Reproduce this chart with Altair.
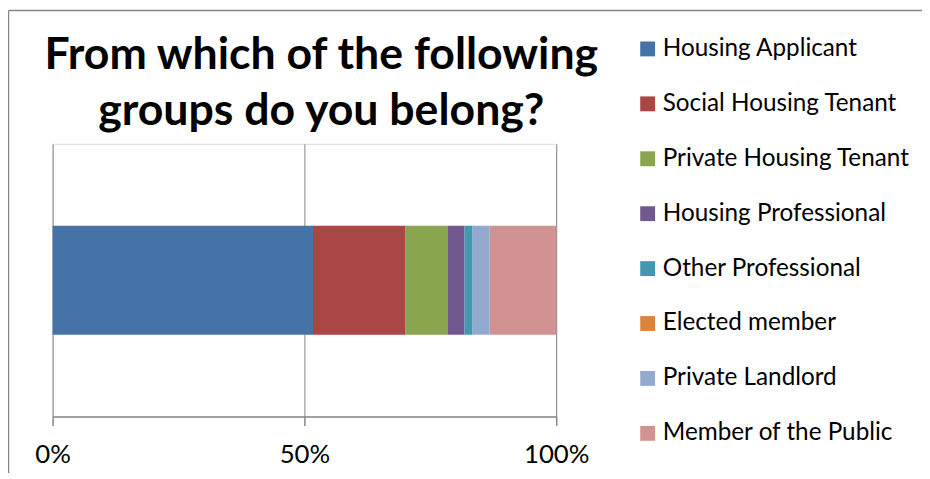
import altair as alt
import pandas as pd

categories = [
    "Housing Applicant",
    "Social Housing Tenant",
    "Private Housing Tenant",
    "Housing Professional",
    "Other Professional",
    "Elected member",
    "Private Landlord",
    "Member of the Public",
]
values = [51.7, 18.4, 8.3, 3.4, 1.6, 0.0, 3.4, 13.2]
colors = ["#4572A7", "#AA4643", "#89A54E", "#71588F", "#4198AF", "#DB843D", "#93A9CF", "#D19392"]
tick_values = [0, 0.5, 1]
title_lines = ["From which of the following", "groups do you belong?"]

df = pd.DataFrame({
    "group": categories,
    "value": values,
    "order": list(range(len(categories))),
    "question": ["q"] * len(categories),
})

FONT = "Lato"
GRAY = "#868686"
W = 508

bars = alt.Chart(df).mark_bar().encode(
    x=alt.X(
        "value:Q",
        stack="normalize",
        title=None,
        scale=alt.Scale(domain=[0, 1], nice=False),
        axis=alt.Axis(
            values=tick_values,
            format=".0%",
            grid=True,
            gridColor=GRAY,
            gridWidth=1,
            domainColor=GRAY,
            domainWidth=1.5,
            tickColor=GRAY,
            tickWidth=1.5,
            tickSize=9,
            labelFont=FONT,
            labelFontSize=26,
            labelColor="black",
            labelPadding=16,
            labelFlush=False,
            labelOverlap=False,
        ),
    ),
    y=alt.Y(
        "question:N",
        axis=None,
        scale=alt.Scale(paddingInner=0, paddingOuter=0.75),
    ),
    color=alt.Color(
        "group:N",
        scale=alt.Scale(domain=categories, range=colors),
        legend=alt.Legend(
            title=None,
            orient="none",
            legendX=588,
            legendY=-108,
            symbolType="square",
            symbolSize=225,
            symbolStrokeWidth=0,
            labelFont=FONT,
            labelFontSize=24.5,
            labelColor="black",
            labelOffset=3,
            rowPadding=30.4,
            labelLimit=400,
        ),
    ),
    order=alt.Order("order:Q"),
)

title = alt.Chart(pd.DataFrame({"t": [0]})).mark_text(
    text=title_lines,
    font=FONT,
    fontSize=45,
    fontWeight="bold",
    color="black",
    align="center",
    baseline="alphabetic",
    lineHeight=57,
).encode(x=alt.value(271), y=alt.value(-76))

border_top = alt.Chart(pd.DataFrame({"t": [0]})).mark_rule(color=GRAY, strokeWidth=1.5).encode(
    x=alt.value(-44.5), x2=alt.value(890), y=alt.value(-134.5)
)
border_left = alt.Chart(pd.DataFrame({"t": [0]})).mark_rule(color=GRAY, strokeWidth=1.5).encode(
    x=alt.value(-44.5), y=alt.value(-134.5), y2=alt.value(340)
)

chart = alt.layer(bars, title, border_top, border_left).properties(
    width=W,
    height=275,
    autosize=alt.AutoSizeParams(type="none"),
    padding={"left": 45, "top": 135, "right": 369, "bottom": 55},
).configure_view(stroke=None).configure(background="white")

chart.save("out.html", embed_options={"renderer": "svg", "actions": False})
